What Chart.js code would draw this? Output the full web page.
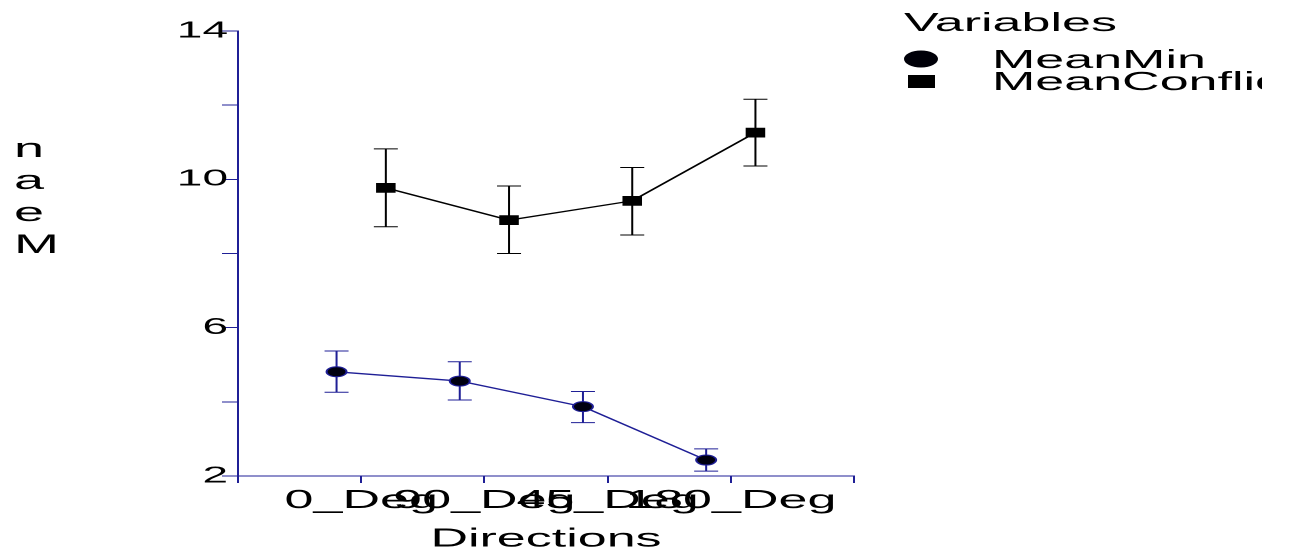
<!DOCTYPE html>
<html>
<head>
<meta charset="utf-8">
<script src="https://cdn.jsdelivr.net/npm/chart.js@4"></script>
<style>
  html, body { margin: 0; padding: 0; background: #ffffff; overflow: hidden; }
  #wrap { position: absolute; left: 0; top: 0; width: 645px; height: 559px; transform: scaleX(2); transform-origin: 0 0; }
  canvas { display: block; }
</style>
</head>
<body>
<div id="wrap"><canvas id="c" width="645" height="559"></canvas></div>
<script>
// ---- data ----
const categories = ['0_Deg', '90_Deg', '45_Deg', '180_Deg'];
const meanMin = [4.81, 4.56, 3.87, 2.43];
const meanMinLow = [4.26, 4.05, 3.44, 2.13];
const meanMinHigh = [5.37, 5.08, 4.28, 2.73];
const meanConflict = [9.77, 8.90, 9.42, 11.26];
const meanConflictLow = [8.72, 8.00, 8.50, 10.36];
const meanConflictHigh = [10.82, 9.82, 10.32, 12.16];
const yTicksLabelled = [2, 6, 10, 14];
const seriesNames = ['MeanMin', 'MeanConflict'];
const legendTitle = 'Variables';
const xTitle = 'Directions';
const yTitle = 'Mean';

// ---- styles ----
const NAVY = '#1f1f96';
const FONT = "'Liberation Sans', Arial, sans-serif";
const dodge = 0.2;

function pts(vals, off) { return vals.map((v, i) => ({ x: i + 1 + off, y: v })); }

const errorBars = {
  id: 'errorBars',
  beforeDatasetsDraw(chart) {
    const ctx = chart.ctx, xs = chart.scales.x, ys = chart.scales.y;
    const sets = [
      { vals: meanMin, lo: meanMinLow, hi: meanMinHigh, off: -dodge, color: NAVY },
      { vals: meanConflict, lo: meanConflictLow, hi: meanConflictHigh, off: dodge, color: '#000000' }
    ];
    ctx.save();
    sets.forEach(s => {
      ctx.strokeStyle = s.color;
      ctx.lineWidth = 1;
      s.vals.forEach((v, i) => {
        const px = xs.getPixelForValue(i + 1 + s.off);
        const pl = ys.getPixelForValue(s.lo[i]);
        const ph = ys.getPixelForValue(s.hi[i]);
        ctx.beginPath();
        ctx.moveTo(px, pl); ctx.lineTo(px, ph);
        ctx.moveTo(px - 6, pl); ctx.lineTo(px + 6, pl);
        ctx.moveTo(px - 6, ph); ctx.lineTo(px + 6, ph);
        ctx.stroke();
      });
    });
    ctx.restore();
  }
};

const extras = {
  id: 'extras',
  afterDraw(chart) {
    const ctx = chart.ctx;
    ctx.save();
    // stacked y-axis title (letters bottom to top)
    ctx.fillStyle = '#000';
    ctx.font = '27px ' + FONT;
    ctx.textAlign = 'left';
    ctx.textBaseline = 'alphabetic';
    const letters = yTitle.split('');
    letters.forEach((ch, i) => {
      ctx.fillText(ch, 7, 253 - i * 32);
    });
    // legend
    ctx.beginPath();
    ctx.rect(440, 0, 631 - 440, 120);
    ctx.clip();
    ctx.font = '26px ' + FONT;
    ctx.fillText(legendTitle, 452, 31);
    ctx.fillText(seriesNames[0], 496, 68);
    ctx.fillText(seriesNames[1], 496, 90);
    ctx.beginPath();
    ctx.arc(460.5, 59, 8.5, 0, Math.PI * 2);
    ctx.fillStyle = '#000008';
    ctx.fill();
    ctx.fillStyle = '#000';
    ctx.fillRect(454, 75, 13.5, 13);
    ctx.restore();
  }
};

new Chart(document.getElementById('c'), {
  type: 'line',
  data: {
    datasets: [
      {
        label: seriesNames[0],
        data: pts(meanMin, -dodge),
        borderColor: NAVY,
        borderWidth: 1.3,
        pointStyle: 'circle',
        pointRadius: 5,
        pointBackgroundColor: '#000010',
        pointBorderColor: NAVY,
        pointBorderWidth: 1,
        fill: false,
        tension: 0
      },
      {
        label: seriesNames[1],
        data: pts(meanConflict, dodge),
        borderColor: '#000000',
        borderWidth: 1.3,
        pointStyle: 'rect',
        pointRadius: 6.2,
        pointBackgroundColor: '#000000',
        pointBorderColor: '#000000',
        pointBorderWidth: 1,
        fill: false,
        tension: 0
      }
    ]
  },
  options: {
    responsive: false,
    animation: false,
    devicePixelRatio: 2,
    layout: { padding: { left: 0, right: 218, top: 31, bottom: 0 } },
    plugins: { legend: { display: false }, tooltip: { enabled: false } },
    scales: {
      x: {
        type: 'linear',
        min: 0, max: 5,
        afterFit(scale) { scale.height = 83; },
        border: { display: true, color: NAVY, width: 1 },
        grid: { drawOnChartArea: false, drawTicks: true, tickLength: 7, color: NAVY, lineWidth: 1 },
        ticks: {
          stepSize: 1, autoSkip: false, maxRotation: 0, minRotation: 0, padding: 2,
          color: '#000', font: { family: FONT, size: 26 },
          callback: v => (v >= 1 && v <= categories.length && Number.isInteger(v)) ? categories[v - 1] : ''
        },
        title: { display: true, text: xTitle, color: '#000', font: { family: FONT, size: 26 }, padding: { top: 0, bottom: 4 } }
      },
      y: {
        type: 'linear',
        min: 2, max: 14,
        afterFit(scale) { scale.width = 119; },
        border: { display: true, color: NAVY, width: 1 },
        grid: { drawOnChartArea: false, drawTicks: true, tickLength: 8, color: NAVY, lineWidth: 1 },
        ticks: {
          stepSize: 2, padding: -3, color: '#000', font: { family: FONT, size: 23 },
          callback: v => yTicksLabelled.includes(v) ? String(v) : ''
        }
      }
    }
  },
  plugins: [errorBars, extras]
});
</script>
</body>
</html>
